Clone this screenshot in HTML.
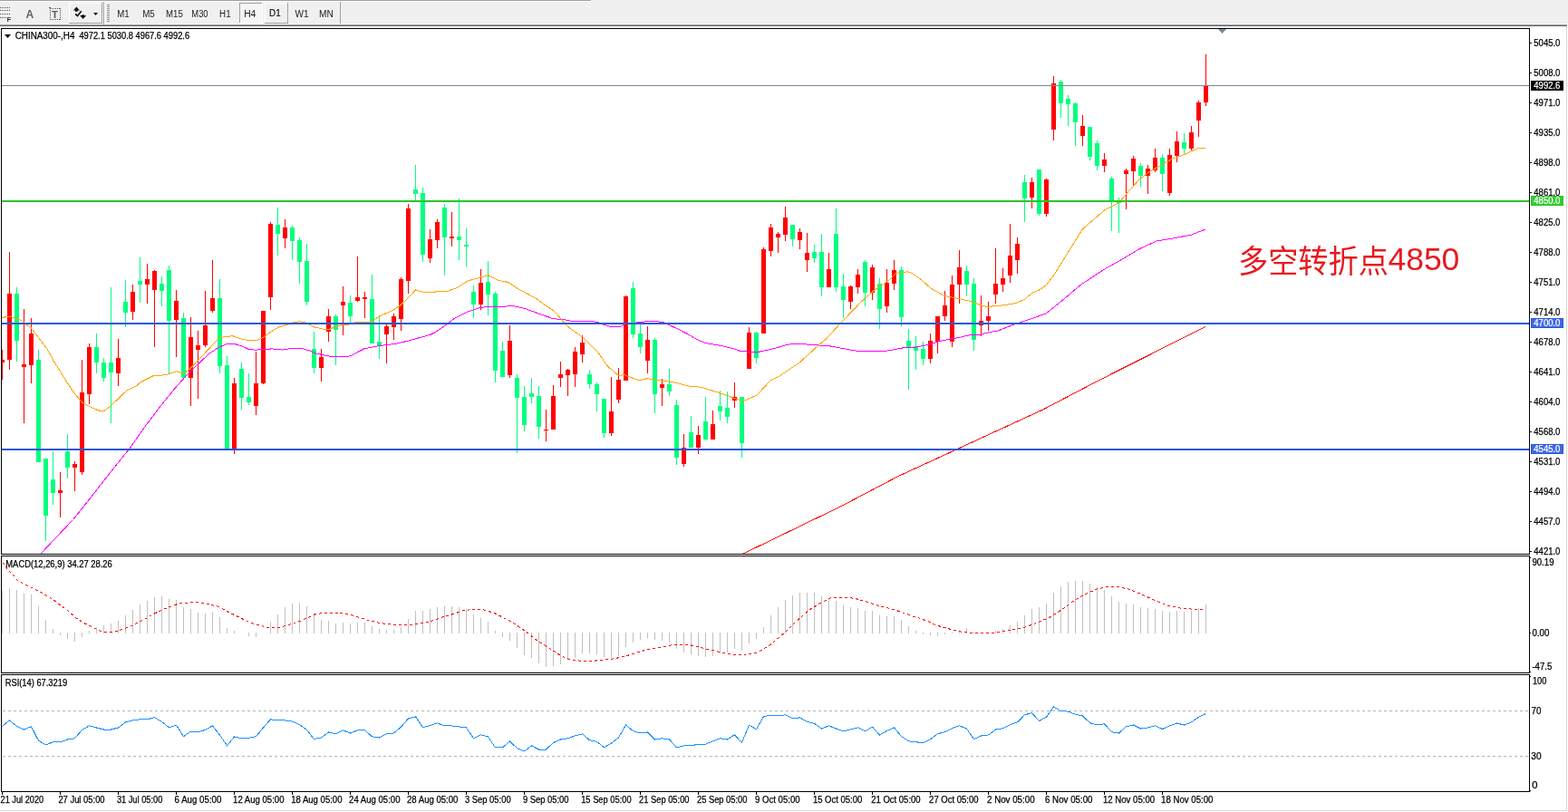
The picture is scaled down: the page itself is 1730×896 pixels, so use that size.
<!DOCTYPE html>
<html><head><meta charset="utf-8"><title>CHINA300 H4</title>
<style>
html,body{margin:0;padding:0;width:1730px;height:896px;overflow:hidden;background:#fff;}
svg{display:block;}
svg text{font-family:'Liberation Sans', sans-serif;}
</style></head>
<body>
<svg width="1730" height="896" viewBox="0 0 1730 896" shape-rendering="crispEdges">
<rect x="0" y="0" width="1730" height="27" fill="#f0f0f0"/>
<rect x="0" y="0" width="652" height="1" fill="#a0a0a0"/>
<rect x="0" y="1" width="652" height="1" fill="#ffffff"/>
<rect x="0" y="26" width="1729" height="1" fill="#f5f5f5"/>
<rect x="0" y="27" width="1729" height="1" fill="#a0a0a0"/>
<rect x="0" y="28" width="1729" height="1" fill="#646464"/>
<rect x="0" y="29" width="1730" height="2" fill="#ffffff"/>
<rect x="0" y="8" width="1" height="1" fill="#505050"/>
<rect x="2" y="8" width="1" height="1" fill="#505050"/>
<rect x="4" y="8" width="1" height="1" fill="#505050"/>
<rect x="6" y="8" width="1" height="1" fill="#505050"/>
<rect x="8" y="8" width="1" height="1" fill="#505050"/>
<rect x="10" y="8" width="1" height="1" fill="#505050"/>
<rect x="0" y="11" width="1" height="1" fill="#505050"/>
<rect x="2" y="11" width="1" height="1" fill="#505050"/>
<rect x="4" y="11" width="1" height="1" fill="#505050"/>
<rect x="6" y="11" width="1" height="1" fill="#505050"/>
<rect x="8" y="11" width="1" height="1" fill="#505050"/>
<rect x="10" y="11" width="1" height="1" fill="#505050"/>
<rect x="0" y="15" width="1" height="1" fill="#505050"/>
<rect x="2" y="15" width="1" height="1" fill="#505050"/>
<rect x="4" y="15" width="1" height="1" fill="#505050"/>
<rect x="6" y="15" width="1" height="1" fill="#505050"/>
<rect x="8" y="15" width="1" height="1" fill="#505050"/>
<rect x="10" y="15" width="1" height="1" fill="#505050"/>
<rect x="0" y="19" width="1" height="1" fill="#505050"/>
<rect x="2" y="19" width="1" height="1" fill="#505050"/>
<rect x="4" y="19" width="1" height="1" fill="#505050"/>
<rect x="6" y="19" width="1" height="1" fill="#505050"/>
<text x="7.6" y="24" font-size="8" font-weight="bold" fill="#404040">F</text>
<text x="28.6" y="20" font-size="12" font-weight="bold" fill="#606060">A</text>
<rect x="55" y="9" width="1" height="1" fill="#505050"/>
<rect x="55" y="21" width="1" height="1" fill="#505050"/>
<rect x="57" y="9" width="1" height="1" fill="#505050"/>
<rect x="57" y="21" width="1" height="1" fill="#505050"/>
<rect x="59" y="9" width="1" height="1" fill="#505050"/>
<rect x="59" y="21" width="1" height="1" fill="#505050"/>
<rect x="61" y="9" width="1" height="1" fill="#505050"/>
<rect x="61" y="21" width="1" height="1" fill="#505050"/>
<rect x="63" y="9" width="1" height="1" fill="#505050"/>
<rect x="63" y="21" width="1" height="1" fill="#505050"/>
<rect x="65" y="9" width="1" height="1" fill="#505050"/>
<rect x="65" y="21" width="1" height="1" fill="#505050"/>
<rect x="55" y="9" width="1" height="1" fill="#505050"/>
<rect x="66" y="9" width="1" height="1" fill="#505050"/>
<rect x="55" y="11" width="1" height="1" fill="#505050"/>
<rect x="66" y="11" width="1" height="1" fill="#505050"/>
<rect x="55" y="13" width="1" height="1" fill="#505050"/>
<rect x="66" y="13" width="1" height="1" fill="#505050"/>
<rect x="55" y="15" width="1" height="1" fill="#505050"/>
<rect x="66" y="15" width="1" height="1" fill="#505050"/>
<rect x="55" y="17" width="1" height="1" fill="#505050"/>
<rect x="66" y="17" width="1" height="1" fill="#505050"/>
<rect x="55" y="19" width="1" height="1" fill="#505050"/>
<rect x="66" y="19" width="1" height="1" fill="#505050"/>
<rect x="55" y="21" width="1" height="1" fill="#505050"/>
<rect x="66" y="21" width="1" height="1" fill="#505050"/>
<rect x="54" y="8" width="2" height="1" fill="#505050"/>
<text x="57" y="19.5" font-size="11.5" font-weight="bold" fill="#606060">T</text>
<rect x="76" y="3" width="37" height="23" fill="#f0f0f0"/>
<rect x="76" y="3" width="36" height="1" fill="#ffffff"/>
<rect x="76" y="3" width="1" height="22" fill="#ffffff"/>
<rect x="76" y="25" width="37" height="1" fill="#a0a0a0"/>
<rect x="112" y="3" width="1" height="23" fill="#a0a0a0"/>
<rect x="113" y="3" width="1" height="23" fill="#f0f0f0"/>
<polygon points="80.8,11.6 84.4,7.6 88,11.6 85.8,11.6 85.8,12.8 83,12.8 83,11.6" fill="#101010" shape-rendering="auto"/>
<polygon points="90.4,16.2 92.9,16.2 92.9,17.1 95.1,17.1 91.6,21 88.1,17.1 90.4,17.1" fill="#101010" shape-rendering="auto"/>
<polyline points="83.2,15.3 85.4,17.5 89.8,12.3" fill="none" stroke="#101010" stroke-width="1.7" shape-rendering="auto"/>
<polygon points="103,14 108,14 105.5,17" fill="#101010" shape-rendering="auto"/>
<rect x="114" y="2" width="1" height="25" fill="#a0a0a0"/>
<rect x="115" y="2" width="1" height="25" fill="#ffffff"/>
<rect x="118" y="5" width="3" height="1" fill="#909090"/>
<rect x="118" y="7" width="3" height="1" fill="#909090"/>
<rect x="118" y="9" width="3" height="1" fill="#909090"/>
<rect x="118" y="11" width="3" height="1" fill="#909090"/>
<rect x="118" y="13" width="3" height="1" fill="#909090"/>
<rect x="118" y="15" width="3" height="1" fill="#909090"/>
<rect x="118" y="17" width="3" height="1" fill="#909090"/>
<rect x="118" y="19" width="3" height="1" fill="#909090"/>
<rect x="118" y="21" width="3" height="1" fill="#909090"/>
<rect x="118" y="23" width="3" height="1" fill="#909090"/>
<defs><pattern id="dith" x="0" y="0" width="2" height="2" patternUnits="userSpaceOnUse"><rect width="2" height="2" fill="#ffffff"/><rect width="1" height="1" fill="#ececec"/><rect x="1" y="1" width="1" height="1" fill="#ececec"/></pattern></defs>
<rect x="264" y="3" width="26" height="23" fill="url(#dith)"/>
<rect x="264" y="3" width="25" height="1" fill="#a0a0a0"/>
<rect x="264" y="3" width="1" height="22" fill="#a0a0a0"/>
<rect x="264" y="25" width="26" height="1" fill="#ffffff"/>
<rect x="289" y="3" width="1" height="23" fill="#ffffff"/>
<rect x="292" y="3" width="26" height="23" fill="#f0f0f0"/>
<rect x="292" y="3" width="25" height="1" fill="#ffffff"/>
<rect x="292" y="3" width="1" height="22" fill="#ffffff"/>
<rect x="292" y="25" width="26" height="1" fill="#a0a0a0"/>
<rect x="317" y="3" width="1" height="23" fill="#a0a0a0"/>
<text x="129.30" y="19.00" font-size="10.00" textLength="13.40" lengthAdjust="spacingAndGlyphs" fill="#202020" xml:space="preserve">M1</text>
<text x="157.20" y="19.00" font-size="10.00" textLength="13.60" lengthAdjust="spacingAndGlyphs" fill="#202020" xml:space="preserve">M5</text>
<text x="183.10" y="19.00" font-size="10.00" textLength="18.70" lengthAdjust="spacingAndGlyphs" fill="#202020" xml:space="preserve">M15</text>
<text x="211.30" y="19.00" font-size="10.00" textLength="18.30" lengthAdjust="spacingAndGlyphs" fill="#202020" xml:space="preserve">M30</text>
<text x="242.10" y="19.00" font-size="10.00" textLength="12.50" lengthAdjust="spacingAndGlyphs" fill="#202020" xml:space="preserve">H1</text>
<text x="269.20" y="19.00" font-size="10.00" textLength="13.10" lengthAdjust="spacingAndGlyphs" fill="#202020" xml:space="preserve">H4</text>
<text x="297.10" y="18.00" font-size="10.00" textLength="12.60" lengthAdjust="spacingAndGlyphs" fill="#000" stroke="#000" stroke-width="0.12" xml:space="preserve">D1</text>
<text x="325.50" y="19.00" font-size="10.00" textLength="15.10" lengthAdjust="spacingAndGlyphs" fill="#202020" xml:space="preserve">W1</text>
<text x="352.00" y="19.00" font-size="10.00" textLength="15.80" lengthAdjust="spacingAndGlyphs" fill="#202020" xml:space="preserve">MN</text>
<rect x="375" y="2" width="1" height="24" fill="#a0a0a0"/>
<rect x="1728" y="29" width="1" height="866" fill="#d8d8d8"/>
<rect x="0" y="894" width="1729" height="1" fill="#d8d8d8"/>
<defs><clipPath id="cm"><rect x="2" y="32" width="1685" height="579"/></clipPath><clipPath id="cd"><rect x="2" y="614" width="1685" height="128"/></clipPath><clipPath id="cr"><rect x="2" y="745" width="1685" height="128"/></clipPath></defs>
<g clip-path="url(#cm)">
<rect x="2" y="386" width="1" height="33" fill="#ff0000"/>
<rect x="0" y="397" width="5" height="3" fill="#ff0000"/>
<rect x="10" y="278" width="1" height="130" fill="#ff0000"/>
<rect x="8" y="324" width="5" height="73" fill="#ff0000"/>
<rect x="18" y="317" width="1" height="82" fill="#00ff7f"/>
<rect x="16" y="324" width="5" height="52" fill="#00ff7f"/>
<rect x="26" y="341" width="1" height="126" fill="#ff0000"/>
<rect x="24" y="402" width="5" height="3" fill="#ff0000"/>
<rect x="34" y="351" width="1" height="72" fill="#ff0000"/>
<rect x="32" y="368" width="5" height="35" fill="#ff0000"/>
<rect x="42" y="386" width="1" height="124" fill="#00ff7f"/>
<rect x="40" y="397" width="5" height="113" fill="#00ff7f"/>
<rect x="50" y="506" width="1" height="91" fill="#00ff7f"/>
<rect x="48" y="506" width="5" height="63" fill="#00ff7f"/>
<rect x="58" y="498" width="1" height="59" fill="#00ff7f"/>
<rect x="56" y="529" width="5" height="15" fill="#00ff7f"/>
<rect x="66" y="521" width="1" height="50" fill="#ff0000"/>
<rect x="64" y="541" width="5" height="3" fill="#ff0000"/>
<rect x="74" y="479" width="1" height="49" fill="#00ff7f"/>
<rect x="72" y="498" width="5" height="18" fill="#00ff7f"/>
<rect x="82" y="509" width="1" height="33" fill="#ff0000"/>
<rect x="80" y="512" width="5" height="4" fill="#ff0000"/>
<rect x="90" y="397" width="1" height="127" fill="#ff0000"/>
<rect x="88" y="433" width="5" height="88" fill="#ff0000"/>
<rect x="98" y="379" width="1" height="67" fill="#ff0000"/>
<rect x="96" y="383" width="5" height="52" fill="#ff0000"/>
<rect x="106" y="368" width="1" height="44" fill="#00ff7f"/>
<rect x="104" y="383" width="5" height="17" fill="#00ff7f"/>
<rect x="114" y="395" width="1" height="26" fill="#00ff7f"/>
<rect x="112" y="400" width="5" height="17" fill="#00ff7f"/>
<rect x="122" y="317" width="1" height="150" fill="#00ff7f"/>
<rect x="120" y="400" width="5" height="11" fill="#00ff7f"/>
<rect x="130" y="374" width="1" height="52" fill="#ff0000"/>
<rect x="128" y="395" width="5" height="17" fill="#ff0000"/>
<rect x="138" y="309" width="1" height="52" fill="#00ff7f"/>
<rect x="136" y="333" width="5" height="12" fill="#00ff7f"/>
<rect x="146" y="314" width="1" height="39" fill="#ff0000"/>
<rect x="144" y="322" width="5" height="22" fill="#ff0000"/>
<rect x="154" y="284" width="1" height="50" fill="#00ff7f"/>
<rect x="152" y="310" width="5" height="4" fill="#00ff7f"/>
<rect x="162" y="291" width="1" height="44" fill="#ff0000"/>
<rect x="160" y="308" width="5" height="6" fill="#ff0000"/>
<rect x="170" y="298" width="1" height="85" fill="#ff0000"/>
<rect x="168" y="299" width="5" height="21" fill="#ff0000"/>
<rect x="178" y="305" width="1" height="33" fill="#00ff7f"/>
<rect x="176" y="313" width="5" height="8" fill="#00ff7f"/>
<rect x="186" y="293" width="1" height="119" fill="#00ff7f"/>
<rect x="184" y="298" width="5" height="56" fill="#00ff7f"/>
<rect x="194" y="320" width="1" height="74" fill="#ff0000"/>
<rect x="192" y="332" width="5" height="21" fill="#ff0000"/>
<rect x="202" y="345" width="1" height="73" fill="#00ff7f"/>
<rect x="200" y="351" width="5" height="66" fill="#00ff7f"/>
<rect x="210" y="350" width="1" height="98" fill="#ff0000"/>
<rect x="208" y="372" width="5" height="45" fill="#ff0000"/>
<rect x="218" y="365" width="1" height="75" fill="#ff0000"/>
<rect x="216" y="381" width="5" height="5" fill="#ff0000"/>
<rect x="226" y="321" width="1" height="62" fill="#ff0000"/>
<rect x="224" y="359" width="5" height="22" fill="#ff0000"/>
<rect x="234" y="287" width="1" height="58" fill="#ff0000"/>
<rect x="232" y="329" width="5" height="14" fill="#ff0000"/>
<rect x="242" y="308" width="1" height="104" fill="#00ff7f"/>
<rect x="240" y="329" width="5" height="75" fill="#00ff7f"/>
<rect x="250" y="393" width="1" height="102" fill="#00ff7f"/>
<rect x="248" y="403" width="5" height="92" fill="#00ff7f"/>
<rect x="258" y="417" width="1" height="84" fill="#ff0000"/>
<rect x="256" y="423" width="5" height="72" fill="#ff0000"/>
<rect x="266" y="400" width="1" height="52" fill="#00ff7f"/>
<rect x="264" y="407" width="5" height="32" fill="#00ff7f"/>
<rect x="274" y="412" width="1" height="35" fill="#00ff7f"/>
<rect x="272" y="438" width="5" height="6" fill="#00ff7f"/>
<rect x="282" y="388" width="1" height="70" fill="#ff0000"/>
<rect x="280" y="423" width="5" height="25" fill="#ff0000"/>
<rect x="290" y="343" width="1" height="81" fill="#ff0000"/>
<rect x="288" y="343" width="5" height="80" fill="#ff0000"/>
<rect x="298" y="245" width="1" height="97" fill="#ff0000"/>
<rect x="296" y="247" width="5" height="81" fill="#ff0000"/>
<rect x="306" y="229" width="1" height="53" fill="#00ff7f"/>
<rect x="304" y="248" width="5" height="10" fill="#00ff7f"/>
<rect x="314" y="242" width="1" height="32" fill="#ff0000"/>
<rect x="312" y="251" width="5" height="12" fill="#ff0000"/>
<rect x="322" y="249" width="1" height="38" fill="#00ff7f"/>
<rect x="320" y="251" width="5" height="15" fill="#00ff7f"/>
<rect x="330" y="262" width="1" height="51" fill="#00ff7f"/>
<rect x="328" y="265" width="5" height="24" fill="#00ff7f"/>
<rect x="338" y="269" width="1" height="68" fill="#00ff7f"/>
<rect x="336" y="288" width="5" height="45" fill="#00ff7f"/>
<rect x="346" y="366" width="1" height="46" fill="#00ff7f"/>
<rect x="344" y="385" width="5" height="21" fill="#00ff7f"/>
<rect x="354" y="385" width="1" height="36" fill="#ff0000"/>
<rect x="352" y="394" width="5" height="12" fill="#ff0000"/>
<rect x="362" y="341" width="1" height="36" fill="#ff0000"/>
<rect x="360" y="349" width="5" height="17" fill="#ff0000"/>
<rect x="370" y="347" width="1" height="56" fill="#00ff7f"/>
<rect x="368" y="349" width="5" height="15" fill="#00ff7f"/>
<rect x="378" y="316" width="1" height="54" fill="#ff0000"/>
<rect x="376" y="333" width="5" height="4" fill="#ff0000"/>
<rect x="386" y="326" width="1" height="30" fill="#00ff7f"/>
<rect x="384" y="334" width="5" height="15" fill="#00ff7f"/>
<rect x="394" y="283" width="1" height="50" fill="#ff0000"/>
<rect x="392" y="328" width="5" height="4" fill="#ff0000"/>
<rect x="402" y="322" width="1" height="29" fill="#ff0000"/>
<rect x="400" y="328" width="5" height="2" fill="#ff0000"/>
<rect x="410" y="303" width="1" height="76" fill="#00ff7f"/>
<rect x="408" y="330" width="5" height="49" fill="#00ff7f"/>
<rect x="418" y="350" width="1" height="46" fill="#00ff7f"/>
<rect x="416" y="377" width="5" height="4" fill="#00ff7f"/>
<rect x="426" y="358" width="1" height="43" fill="#ff0000"/>
<rect x="424" y="360" width="5" height="9" fill="#ff0000"/>
<rect x="434" y="346" width="1" height="29" fill="#ff0000"/>
<rect x="432" y="349" width="5" height="12" fill="#ff0000"/>
<rect x="442" y="306" width="1" height="59" fill="#ff0000"/>
<rect x="440" y="308" width="5" height="44" fill="#ff0000"/>
<rect x="450" y="225" width="1" height="99" fill="#ff0000"/>
<rect x="448" y="230" width="5" height="80" fill="#ff0000"/>
<rect x="458" y="182" width="1" height="39" fill="#00ff7f"/>
<rect x="456" y="209" width="5" height="5" fill="#00ff7f"/>
<rect x="466" y="207" width="1" height="82" fill="#00ff7f"/>
<rect x="464" y="213" width="5" height="68" fill="#00ff7f"/>
<rect x="474" y="253" width="1" height="37" fill="#ff0000"/>
<rect x="472" y="264" width="5" height="21" fill="#ff0000"/>
<rect x="482" y="242" width="1" height="32" fill="#ff0000"/>
<rect x="480" y="245" width="5" height="20" fill="#ff0000"/>
<rect x="490" y="225" width="1" height="79" fill="#00ff7f"/>
<rect x="488" y="229" width="5" height="33" fill="#00ff7f"/>
<rect x="498" y="234" width="1" height="38" fill="#ff0000"/>
<rect x="496" y="261" width="5" height="2" fill="#ff0000"/>
<rect x="506" y="219" width="1" height="68" fill="#00ff7f"/>
<rect x="504" y="261" width="5" height="4" fill="#00ff7f"/>
<rect x="514" y="252" width="1" height="42" fill="#00ff7f"/>
<rect x="512" y="270" width="5" height="2" fill="#00ff7f"/>
<rect x="522" y="315" width="1" height="36" fill="#00ff7f"/>
<rect x="520" y="322" width="5" height="14" fill="#00ff7f"/>
<rect x="530" y="297" width="1" height="45" fill="#ff0000"/>
<rect x="528" y="312" width="5" height="24" fill="#ff0000"/>
<rect x="538" y="288" width="1" height="60" fill="#00ff7f"/>
<rect x="536" y="311" width="5" height="14" fill="#00ff7f"/>
<rect x="546" y="322" width="1" height="100" fill="#00ff7f"/>
<rect x="544" y="324" width="5" height="85" fill="#00ff7f"/>
<rect x="554" y="377" width="1" height="39" fill="#00ff7f"/>
<rect x="552" y="387" width="5" height="29" fill="#00ff7f"/>
<rect x="562" y="359" width="1" height="58" fill="#ff0000"/>
<rect x="560" y="376" width="5" height="38" fill="#ff0000"/>
<rect x="570" y="413" width="1" height="87" fill="#00ff7f"/>
<rect x="568" y="417" width="5" height="22" fill="#00ff7f"/>
<rect x="578" y="426" width="1" height="50" fill="#00ff7f"/>
<rect x="576" y="438" width="5" height="31" fill="#00ff7f"/>
<rect x="586" y="417" width="1" height="28" fill="#00ff7f"/>
<rect x="584" y="434" width="5" height="4" fill="#00ff7f"/>
<rect x="594" y="426" width="1" height="58" fill="#00ff7f"/>
<rect x="592" y="437" width="5" height="34" fill="#00ff7f"/>
<rect x="602" y="452" width="1" height="35" fill="#ff0000"/>
<rect x="600" y="474" width="5" height="1" fill="#ff0000"/>
<rect x="610" y="425" width="1" height="49" fill="#ff0000"/>
<rect x="608" y="437" width="5" height="37" fill="#ff0000"/>
<rect x="618" y="399" width="1" height="28" fill="#ff0000"/>
<rect x="616" y="413" width="5" height="4" fill="#ff0000"/>
<rect x="626" y="407" width="1" height="30" fill="#ff0000"/>
<rect x="624" y="408" width="5" height="6" fill="#ff0000"/>
<rect x="634" y="383" width="1" height="44" fill="#ff0000"/>
<rect x="632" y="388" width="5" height="25" fill="#ff0000"/>
<rect x="642" y="370" width="1" height="30" fill="#ff0000"/>
<rect x="640" y="378" width="5" height="13" fill="#ff0000"/>
<rect x="650" y="408" width="1" height="21" fill="#00ff7f"/>
<rect x="648" y="413" width="5" height="11" fill="#00ff7f"/>
<rect x="658" y="422" width="1" height="32" fill="#00ff7f"/>
<rect x="656" y="424" width="5" height="11" fill="#00ff7f"/>
<rect x="666" y="440" width="1" height="43" fill="#00ff7f"/>
<rect x="664" y="440" width="5" height="38" fill="#00ff7f"/>
<rect x="674" y="416" width="1" height="65" fill="#ff0000"/>
<rect x="672" y="454" width="5" height="24" fill="#ff0000"/>
<rect x="682" y="406" width="1" height="39" fill="#ff0000"/>
<rect x="680" y="419" width="5" height="22" fill="#ff0000"/>
<rect x="690" y="326" width="1" height="94" fill="#ff0000"/>
<rect x="688" y="327" width="5" height="93" fill="#ff0000"/>
<rect x="698" y="311" width="1" height="62" fill="#00ff7f"/>
<rect x="696" y="318" width="5" height="51" fill="#00ff7f"/>
<rect x="706" y="358" width="1" height="32" fill="#00ff7f"/>
<rect x="704" y="368" width="5" height="15" fill="#00ff7f"/>
<rect x="714" y="360" width="1" height="52" fill="#ff0000"/>
<rect x="712" y="375" width="5" height="23" fill="#ff0000"/>
<rect x="722" y="373" width="1" height="83" fill="#00ff7f"/>
<rect x="720" y="375" width="5" height="60" fill="#00ff7f"/>
<rect x="730" y="418" width="1" height="30" fill="#ff0000"/>
<rect x="728" y="424" width="5" height="4" fill="#ff0000"/>
<rect x="738" y="407" width="1" height="30" fill="#00ff7f"/>
<rect x="736" y="424" width="5" height="8" fill="#00ff7f"/>
<rect x="746" y="441" width="1" height="72" fill="#00ff7f"/>
<rect x="744" y="447" width="5" height="58" fill="#00ff7f"/>
<rect x="754" y="479" width="1" height="36" fill="#ff0000"/>
<rect x="752" y="494" width="5" height="18" fill="#ff0000"/>
<rect x="762" y="459" width="1" height="35" fill="#00ff7f"/>
<rect x="760" y="477" width="5" height="17" fill="#00ff7f"/>
<rect x="770" y="470" width="1" height="31" fill="#ff0000"/>
<rect x="768" y="480" width="5" height="14" fill="#ff0000"/>
<rect x="778" y="438" width="1" height="48" fill="#00ff7f"/>
<rect x="776" y="465" width="5" height="20" fill="#00ff7f"/>
<rect x="786" y="453" width="1" height="32" fill="#ff0000"/>
<rect x="784" y="468" width="5" height="17" fill="#ff0000"/>
<rect x="794" y="431" width="1" height="33" fill="#00ff7f"/>
<rect x="792" y="448" width="5" height="6" fill="#00ff7f"/>
<rect x="802" y="432" width="1" height="35" fill="#00ff7f"/>
<rect x="800" y="450" width="5" height="10" fill="#00ff7f"/>
<rect x="810" y="422" width="1" height="28" fill="#ff0000"/>
<rect x="808" y="438" width="5" height="4" fill="#ff0000"/>
<rect x="818" y="438" width="1" height="67" fill="#00ff7f"/>
<rect x="816" y="438" width="5" height="51" fill="#00ff7f"/>
<rect x="826" y="361" width="1" height="46" fill="#ff0000"/>
<rect x="824" y="367" width="5" height="40" fill="#ff0000"/>
<rect x="834" y="366" width="1" height="35" fill="#00ff7f"/>
<rect x="832" y="367" width="5" height="28" fill="#00ff7f"/>
<rect x="842" y="273" width="1" height="95" fill="#ff0000"/>
<rect x="840" y="275" width="5" height="93" fill="#ff0000"/>
<rect x="850" y="247" width="1" height="36" fill="#ff0000"/>
<rect x="848" y="251" width="5" height="26" fill="#ff0000"/>
<rect x="858" y="256" width="1" height="23" fill="#ff0000"/>
<rect x="856" y="258" width="5" height="4" fill="#ff0000"/>
<rect x="866" y="228" width="1" height="38" fill="#ff0000"/>
<rect x="864" y="240" width="5" height="19" fill="#ff0000"/>
<rect x="874" y="248" width="1" height="24" fill="#00ff7f"/>
<rect x="872" y="248" width="5" height="16" fill="#00ff7f"/>
<rect x="882" y="252" width="1" height="23" fill="#ff0000"/>
<rect x="880" y="256" width="5" height="9" fill="#ff0000"/>
<rect x="890" y="257" width="1" height="43" fill="#ff0000"/>
<rect x="888" y="279" width="5" height="8" fill="#ff0000"/>
<rect x="898" y="270" width="1" height="20" fill="#00ff7f"/>
<rect x="896" y="278" width="5" height="7" fill="#00ff7f"/>
<rect x="906" y="258" width="1" height="69" fill="#00ff7f"/>
<rect x="904" y="278" width="5" height="39" fill="#00ff7f"/>
<rect x="914" y="279" width="1" height="38" fill="#ff0000"/>
<rect x="912" y="297" width="5" height="20" fill="#ff0000"/>
<rect x="922" y="230" width="1" height="92" fill="#00ff7f"/>
<rect x="920" y="258" width="5" height="59" fill="#00ff7f"/>
<rect x="930" y="302" width="1" height="49" fill="#00ff7f"/>
<rect x="928" y="316" width="5" height="15" fill="#00ff7f"/>
<rect x="938" y="315" width="1" height="26" fill="#ff0000"/>
<rect x="936" y="316" width="5" height="17" fill="#ff0000"/>
<rect x="946" y="297" width="1" height="27" fill="#ff0000"/>
<rect x="944" y="303" width="5" height="14" fill="#ff0000"/>
<rect x="954" y="287" width="1" height="51" fill="#00ff7f"/>
<rect x="952" y="289" width="5" height="34" fill="#00ff7f"/>
<rect x="962" y="292" width="1" height="39" fill="#ff0000"/>
<rect x="960" y="295" width="5" height="28" fill="#ff0000"/>
<rect x="970" y="307" width="1" height="56" fill="#00ff7f"/>
<rect x="968" y="313" width="5" height="28" fill="#00ff7f"/>
<rect x="978" y="297" width="1" height="48" fill="#ff0000"/>
<rect x="976" y="312" width="5" height="26" fill="#ff0000"/>
<rect x="986" y="287" width="1" height="33" fill="#ff0000"/>
<rect x="984" y="298" width="5" height="15" fill="#ff0000"/>
<rect x="994" y="294" width="1" height="66" fill="#00ff7f"/>
<rect x="992" y="298" width="5" height="52" fill="#00ff7f"/>
<rect x="1002" y="363" width="1" height="67" fill="#00ff7f"/>
<rect x="1000" y="376" width="5" height="7" fill="#00ff7f"/>
<rect x="1010" y="371" width="1" height="37" fill="#00ff7f"/>
<rect x="1008" y="382" width="5" height="5" fill="#00ff7f"/>
<rect x="1018" y="377" width="1" height="26" fill="#00ff7f"/>
<rect x="1016" y="385" width="5" height="11" fill="#00ff7f"/>
<rect x="1026" y="368" width="1" height="33" fill="#ff0000"/>
<rect x="1024" y="376" width="5" height="20" fill="#ff0000"/>
<rect x="1034" y="349" width="1" height="41" fill="#ff0000"/>
<rect x="1032" y="349" width="5" height="28" fill="#ff0000"/>
<rect x="1042" y="321" width="1" height="33" fill="#ff0000"/>
<rect x="1040" y="337" width="5" height="12" fill="#ff0000"/>
<rect x="1050" y="304" width="1" height="79" fill="#ff0000"/>
<rect x="1048" y="314" width="5" height="63" fill="#ff0000"/>
<rect x="1058" y="276" width="1" height="59" fill="#ff0000"/>
<rect x="1056" y="295" width="5" height="19" fill="#ff0000"/>
<rect x="1066" y="293" width="1" height="34" fill="#00ff7f"/>
<rect x="1064" y="299" width="5" height="15" fill="#00ff7f"/>
<rect x="1074" y="307" width="1" height="80" fill="#00ff7f"/>
<rect x="1072" y="313" width="5" height="62" fill="#00ff7f"/>
<rect x="1082" y="326" width="1" height="45" fill="#ff0000"/>
<rect x="1080" y="354" width="5" height="5" fill="#ff0000"/>
<rect x="1090" y="333" width="1" height="32" fill="#ff0000"/>
<rect x="1088" y="349" width="5" height="5" fill="#ff0000"/>
<rect x="1098" y="274" width="1" height="61" fill="#ff0000"/>
<rect x="1096" y="313" width="5" height="12" fill="#ff0000"/>
<rect x="1106" y="296" width="1" height="26" fill="#ff0000"/>
<rect x="1104" y="307" width="5" height="7" fill="#ff0000"/>
<rect x="1114" y="247" width="1" height="65" fill="#ff0000"/>
<rect x="1112" y="282" width="5" height="22" fill="#ff0000"/>
<rect x="1122" y="262" width="1" height="40" fill="#ff0000"/>
<rect x="1120" y="269" width="5" height="18" fill="#ff0000"/>
<rect x="1130" y="193" width="1" height="52" fill="#00ff7f"/>
<rect x="1128" y="201" width="5" height="18" fill="#00ff7f"/>
<rect x="1138" y="196" width="1" height="34" fill="#ff0000"/>
<rect x="1136" y="201" width="5" height="17" fill="#ff0000"/>
<rect x="1146" y="187" width="1" height="51" fill="#00ff7f"/>
<rect x="1144" y="187" width="5" height="49" fill="#00ff7f"/>
<rect x="1154" y="197" width="1" height="42" fill="#ff0000"/>
<rect x="1152" y="198" width="5" height="38" fill="#ff0000"/>
<rect x="1162" y="84" width="1" height="71" fill="#ff0000"/>
<rect x="1160" y="92" width="5" height="51" fill="#ff0000"/>
<rect x="1170" y="88" width="1" height="42" fill="#00ff7f"/>
<rect x="1168" y="90" width="5" height="24" fill="#00ff7f"/>
<rect x="1178" y="105" width="1" height="34" fill="#00ff7f"/>
<rect x="1176" y="109" width="5" height="6" fill="#00ff7f"/>
<rect x="1186" y="113" width="1" height="48" fill="#00ff7f"/>
<rect x="1184" y="114" width="5" height="21" fill="#00ff7f"/>
<rect x="1194" y="127" width="1" height="34" fill="#ff0000"/>
<rect x="1192" y="139" width="5" height="11" fill="#ff0000"/>
<rect x="1202" y="140" width="1" height="37" fill="#00ff7f"/>
<rect x="1200" y="140" width="5" height="33" fill="#00ff7f"/>
<rect x="1210" y="155" width="1" height="33" fill="#00ff7f"/>
<rect x="1208" y="158" width="5" height="25" fill="#00ff7f"/>
<rect x="1218" y="169" width="1" height="21" fill="#ff0000"/>
<rect x="1216" y="176" width="5" height="7" fill="#ff0000"/>
<rect x="1226" y="195" width="1" height="60" fill="#00ff7f"/>
<rect x="1224" y="197" width="5" height="24" fill="#00ff7f"/>
<rect x="1234" y="218" width="1" height="39" fill="#00ff7f"/>
<rect x="1232" y="221" width="5" height="3" fill="#00ff7f"/>
<rect x="1242" y="186" width="1" height="45" fill="#ff0000"/>
<rect x="1240" y="188" width="5" height="4" fill="#ff0000"/>
<rect x="1250" y="172" width="1" height="32" fill="#ff0000"/>
<rect x="1248" y="175" width="5" height="14" fill="#ff0000"/>
<rect x="1258" y="180" width="1" height="26" fill="#00ff7f"/>
<rect x="1256" y="183" width="5" height="11" fill="#00ff7f"/>
<rect x="1266" y="182" width="1" height="32" fill="#ff0000"/>
<rect x="1264" y="186" width="5" height="8" fill="#ff0000"/>
<rect x="1274" y="164" width="1" height="26" fill="#ff0000"/>
<rect x="1272" y="174" width="5" height="14" fill="#ff0000"/>
<rect x="1282" y="170" width="1" height="41" fill="#00ff7f"/>
<rect x="1280" y="174" width="5" height="18" fill="#00ff7f"/>
<rect x="1290" y="164" width="1" height="52" fill="#ff0000"/>
<rect x="1288" y="171" width="5" height="42" fill="#ff0000"/>
<rect x="1298" y="145" width="1" height="34" fill="#ff0000"/>
<rect x="1296" y="156" width="5" height="16" fill="#ff0000"/>
<rect x="1306" y="147" width="1" height="22" fill="#00ff7f"/>
<rect x="1304" y="157" width="5" height="7" fill="#00ff7f"/>
<rect x="1314" y="139" width="1" height="28" fill="#ff0000"/>
<rect x="1312" y="146" width="5" height="18" fill="#ff0000"/>
<rect x="1322" y="111" width="1" height="40" fill="#ff0000"/>
<rect x="1320" y="113" width="5" height="20" fill="#ff0000"/>
<rect x="1330" y="60" width="1" height="57" fill="#ff0000"/>
<rect x="1328" y="94" width="5" height="19" fill="#ff0000"/>
<polyline points="819.6,611.2 927.7,558.8 991.3,525.4 1054.9,496.1 1150.3,452.2 1213.9,418.9 1291.3,380.0 1329.8,360.7" fill="none" stroke="#ff0000" stroke-width="1"/>
<polyline points="44.5,611.5 60.5,594.5 80.5,573.5 100.5,548.5 122.4,520.5 142.5,495.5 160.8,469.6 176.8,448.5 191.3,430.5 202.9,417.4 215.9,404.3 230.5,390.5 240.6,383.7 249.3,380.0 259.5,379.7 266.7,381.8 274.0,385.2 281.2,386.2 300.1,384.9 303.9,385.3 311.9,386.1 320.0,384.7 334.7,385.0 341.4,386.9 348.1,389.8 360.1,392.5 368.1,393.8 381.5,393.8 386.9,392.5 401.6,384.9 419.0,381.5 437.8,379.1 451.1,375.9 464.5,372.2 475.2,369.2 480.5,366.5 491.6,358.8 502.3,350.7 515.7,344.0 529.0,339.8 535.7,338.7 555.8,338.7 561.2,337.6 566.5,337.6 579.9,340.7 596.0,346.7 609.4,351.4 617.4,352.5 622.8,352.7 630.8,354.5 654.9,354.8 660.2,355.8 666.2,358.3 674.2,360.6 683.6,360.6 689.0,357.9 702.4,355.9 711.7,354.9 726.5,354.9 731.8,355.7 738.5,358.6 749.2,363.7 759.9,369.3 769.3,374.7 778.7,378.7 789.4,380.3 800.1,382.5 810.8,385.1 817.5,387.8 826.9,388.1 834.9,388.8 845.5,386.5 856.1,384.1 868.6,380.2 881.1,379.2 892.0,380.2 915.4,381.8 927.9,384.1 943.5,387.0 956.0,387.7 979.4,387.0 996.6,383.8 1009.1,383.4 1024.7,380.2 1038.7,376.0 1055.9,372.9 1069.9,369.8 1080.9,369.3 1093.3,366.2 1100.5,365.2 1117.2,358.5 1130.6,354.3 1154.1,346.0 1170.8,332.6 1192.5,314.2 1219.3,296.6 1234.4,288.2 1257.8,274.3 1276.2,266.0 1298.0,262.3 1314.7,259.0 1329.8,253.1" fill="none" stroke="#ff00ff" stroke-width="1"/>
<polyline points="2.0,350.8 5.5,350.0 9.9,349.6 16.1,350.5 23.9,353.9 34.1,361.8 42.7,372.7 52.1,385.2 59.9,399.3 72.4,419.5 81.8,433.6 91.1,444.5 100.5,449.3 108.3,452.8 114.5,453.9 122.4,447.7 139.5,431.3 150.5,425.8 155.0,421.8 169.5,414.5 182.6,413.8 194.2,409.9 202.9,411.9 210.1,406.5 221.8,394.2 233.4,381.9 242.1,372.7 247.9,371.7 256.6,370.7 265.3,373.9 274.0,375.6 284.1,375.3 291.4,371.7 300.1,365.2 307.9,360.8 317.3,358.1 324.0,355.8 330.7,354.8 337.4,356.1 346.7,360.8 354.8,362.8 362.8,363.9 368.1,361.2 376.2,359.0 382.9,358.5 392.2,355.8 405.6,355.8 411.0,354.5 417.7,349.4 427.0,345.4 435.1,341.4 441.8,336.7 451.1,328.0 458.5,320.0 465.9,322.0 480.5,322.0 493.4,321.6 505.5,316.9 515.9,310.0 529.8,306.2 538.5,303.5 548.9,309.1 560.5,311.4 569.9,317.7 580.8,323.6 591.8,329.4 601.1,336.4 610.5,342.7 615.2,347.4 623.0,356.8 627.7,361.4 638.6,369.3 643.3,372.4 654.3,383.3 660.5,389.6 669.9,403.6 682.4,414.6 688.6,413.5 694.9,416.1 705.8,420.0 713.6,417.7 720.5,418.5 726.2,419.7 740.0,421.1 762.6,426.6 773.0,427.1 795.5,434.1 819.8,442.7 835.4,435.8 849.9,420.0 859.2,415.4 882.6,399.8 902.9,381.0 910.7,374.8 927.9,356.1 949.8,333.4 963.8,320.9 971.6,315.5 981.0,309.2 988.8,301.4 996.6,300.2 1001.3,299.9 1005.9,301.4 1015.3,307.7 1027.8,318.6 1041.8,326.4 1055.9,329.2 1071.5,332.6 1084.0,337.3 1090.2,338.9 1098.0,337.3 1100.5,337.6 1115.5,335.6 1122.3,333.9 1130.6,330.1 1139.0,323.1 1145.7,320.5 1154.1,315.0 1164.1,301.6 1177.5,279.9 1194.2,253.1 1207.6,241.4 1219.3,231.3 1235.0,223.3 1242.5,214.1 1257.6,197.4 1267.7,189.8 1282.7,181.5 1294.4,174.8 1304.5,171.4 1321.2,163.9 1330.4,163.9" fill="none" stroke="#ffa500" stroke-width="1"/>
<rect x="2" y="94" width="1685" height="1" fill="#778899"/>
<rect x="2" y="221" width="1685" height="2" fill="#2bc42b"/>
<rect x="2" y="356" width="1685" height="2" fill="#2a58db"/>
<rect x="2" y="495" width="1685" height="2" fill="#2a58db"/>
</g>
<polygon points="1344,32 1353,32 1348.5,37" fill="#778899" shape-rendering="auto"/>
<rect x="1.5" y="31.5" width="1686" height="580" fill="none" stroke="#000" stroke-width="1"/>
<polygon points="5,38 12,38 8.5,42" fill="#000" shape-rendering="auto"/>
<text x="16.70" y="43.00" font-size="10.00" textLength="65.70" lengthAdjust="spacingAndGlyphs" fill="#000" stroke="#000" stroke-width="0.25" xml:space="preserve">CHINA300-,H4</text>
<text x="87.40" y="43.00" font-size="10.00" textLength="121.70" lengthAdjust="spacingAndGlyphs" fill="#000" stroke="#000" stroke-width="0.25" xml:space="preserve">4972.1 5030.8 4967.6 4992.6</text>
<rect x="1688" y="47" width="2" height="1" fill="#000"/>
<text x="1692.30" y="51.00" font-size="10.00" textLength="29.10" lengthAdjust="spacingAndGlyphs" fill="#000" stroke="#000" stroke-width="0.25" xml:space="preserve">5045.0</text>
<rect x="1688" y="80" width="2" height="1" fill="#000"/>
<text x="1692.30" y="84.00" font-size="10.00" textLength="29.10" lengthAdjust="spacingAndGlyphs" fill="#000" stroke="#000" stroke-width="0.25" xml:space="preserve">5008.0</text>
<rect x="1688" y="113" width="2" height="1" fill="#000"/>
<text x="1692.30" y="117.00" font-size="10.00" textLength="29.10" lengthAdjust="spacingAndGlyphs" fill="#000" stroke="#000" stroke-width="0.25" xml:space="preserve">4971.0</text>
<rect x="1688" y="146" width="2" height="1" fill="#000"/>
<text x="1692.30" y="150.00" font-size="10.00" textLength="29.10" lengthAdjust="spacingAndGlyphs" fill="#000" stroke="#000" stroke-width="0.25" xml:space="preserve">4935.0</text>
<rect x="1688" y="179" width="2" height="1" fill="#000"/>
<text x="1692.30" y="183.00" font-size="10.00" textLength="29.10" lengthAdjust="spacingAndGlyphs" fill="#000" stroke="#000" stroke-width="0.25" xml:space="preserve">4898.0</text>
<rect x="1688" y="212" width="2" height="1" fill="#000"/>
<text x="1692.30" y="216.00" font-size="10.00" textLength="29.10" lengthAdjust="spacingAndGlyphs" fill="#000" stroke="#000" stroke-width="0.25" xml:space="preserve">4861.0</text>
<rect x="1688" y="245" width="2" height="1" fill="#000"/>
<text x="1692.30" y="249.00" font-size="10.00" textLength="29.10" lengthAdjust="spacingAndGlyphs" fill="#000" stroke="#000" stroke-width="0.25" xml:space="preserve">4825.0</text>
<rect x="1688" y="278" width="2" height="1" fill="#000"/>
<text x="1692.30" y="282.00" font-size="10.00" textLength="29.10" lengthAdjust="spacingAndGlyphs" fill="#000" stroke="#000" stroke-width="0.25" xml:space="preserve">4788.0</text>
<rect x="1688" y="311" width="2" height="1" fill="#000"/>
<text x="1692.30" y="315.00" font-size="10.00" textLength="29.10" lengthAdjust="spacingAndGlyphs" fill="#000" stroke="#000" stroke-width="0.25" xml:space="preserve">4751.0</text>
<rect x="1688" y="344" width="2" height="1" fill="#000"/>
<text x="1692.30" y="348.00" font-size="10.00" textLength="29.10" lengthAdjust="spacingAndGlyphs" fill="#000" stroke="#000" stroke-width="0.25" xml:space="preserve">4714.0</text>
<rect x="1688" y="377" width="2" height="1" fill="#000"/>
<text x="1692.30" y="381.00" font-size="10.00" textLength="29.10" lengthAdjust="spacingAndGlyphs" fill="#000" stroke="#000" stroke-width="0.25" xml:space="preserve">4678.0</text>
<rect x="1688" y="410" width="2" height="1" fill="#000"/>
<text x="1692.30" y="414.00" font-size="10.00" textLength="29.10" lengthAdjust="spacingAndGlyphs" fill="#000" stroke="#000" stroke-width="0.25" xml:space="preserve">4641.0</text>
<rect x="1688" y="443" width="2" height="1" fill="#000"/>
<text x="1692.30" y="447.00" font-size="10.00" textLength="29.10" lengthAdjust="spacingAndGlyphs" fill="#000" stroke="#000" stroke-width="0.25" xml:space="preserve">4604.0</text>
<rect x="1688" y="476" width="2" height="1" fill="#000"/>
<text x="1692.30" y="480.00" font-size="10.00" textLength="29.10" lengthAdjust="spacingAndGlyphs" fill="#000" stroke="#000" stroke-width="0.25" xml:space="preserve">4568.0</text>
<rect x="1688" y="509" width="2" height="1" fill="#000"/>
<text x="1692.30" y="513.00" font-size="10.00" textLength="29.10" lengthAdjust="spacingAndGlyphs" fill="#000" stroke="#000" stroke-width="0.25" xml:space="preserve">4531.0</text>
<rect x="1688" y="542" width="2" height="1" fill="#000"/>
<text x="1692.30" y="546.00" font-size="10.00" textLength="29.10" lengthAdjust="spacingAndGlyphs" fill="#000" stroke="#000" stroke-width="0.25" xml:space="preserve">4494.0</text>
<rect x="1688" y="575" width="2" height="1" fill="#000"/>
<text x="1692.30" y="579.00" font-size="10.00" textLength="29.10" lengthAdjust="spacingAndGlyphs" fill="#000" stroke="#000" stroke-width="0.25" xml:space="preserve">4457.0</text>
<rect x="1688" y="608" width="2" height="1" fill="#000"/>
<text x="1692.30" y="612.00" font-size="10.00" textLength="29.10" lengthAdjust="spacingAndGlyphs" fill="#000" stroke="#000" stroke-width="0.25" xml:space="preserve">4421.0</text>
<rect x="1689" y="89" width="36" height="11" fill="#000000"/>
<rect x="1690" y="90" width="34" height="9" fill="#000000"/>
<text x="1692.30" y="98.00" font-size="10.00" textLength="29.10" lengthAdjust="spacingAndGlyphs" fill="#fff" stroke="#fff" stroke-width="0.2">4992.6</text>
<rect x="1689" y="216" width="36" height="11" fill="#2bc42b"/>
<rect x="1690" y="217" width="34" height="9" fill="#32cd32"/>
<text x="1692.30" y="225.00" font-size="10.00" textLength="29.10" lengthAdjust="spacingAndGlyphs" fill="#fff" stroke="#fff" stroke-width="0.2">4850.0</text>
<rect x="1689" y="351" width="36" height="11" fill="#2a58db"/>
<rect x="1690" y="352" width="34" height="9" fill="#4169e1"/>
<text x="1692.30" y="360.00" font-size="10.00" textLength="29.10" lengthAdjust="spacingAndGlyphs" fill="#fff" stroke="#fff" stroke-width="0.2">4700.0</text>
<rect x="1689" y="490" width="36" height="11" fill="#2a58db"/>
<rect x="1690" y="491" width="34" height="9" fill="#4169e1"/>
<text x="1692.30" y="499.00" font-size="10.00" textLength="29.10" lengthAdjust="spacingAndGlyphs" fill="#fff" stroke="#fff" stroke-width="0.2">4545.0</text>
<g transform="translate(1366.0,301.2) scale(1,1.045)"><text x="0" y="0" style="font-family:'Liberation Sans', 'Noto Sans CJK SC', sans-serif" font-size="33.2" fill="#e8191f" shape-rendering="auto">多空转折点</text></g>
<text x="1531.4" y="298.4" style="font-family:'Liberation Sans', sans-serif" font-size="35.5" fill="#e8191f" shape-rendering="auto">4850</text>
<g clip-path="url(#cd)">
<rect x="2" y="652" width="1" height="47" fill="#c0c0c0"/>
<rect x="10" y="649" width="1" height="50" fill="#c0c0c0"/>
<rect x="18" y="651" width="1" height="48" fill="#c0c0c0"/>
<rect x="26" y="655" width="1" height="44" fill="#c0c0c0"/>
<rect x="34" y="656" width="1" height="43" fill="#c0c0c0"/>
<rect x="42" y="669" width="1" height="30" fill="#c0c0c0"/>
<rect x="50" y="684" width="1" height="15" fill="#c0c0c0"/>
<rect x="58" y="694" width="1" height="5" fill="#c0c0c0"/>
<rect x="66" y="698" width="1" height="3" fill="#c0c0c0"/>
<rect x="74" y="698" width="1" height="7" fill="#c0c0c0"/>
<rect x="82" y="698" width="1" height="10" fill="#c0c0c0"/>
<rect x="90" y="698" width="1" height="5" fill="#c0c0c0"/>
<rect x="98" y="696" width="1" height="3" fill="#c0c0c0"/>
<rect x="106" y="692" width="1" height="7" fill="#c0c0c0"/>
<rect x="114" y="690" width="1" height="9" fill="#c0c0c0"/>
<rect x="122" y="688" width="1" height="11" fill="#c0c0c0"/>
<rect x="130" y="685" width="1" height="14" fill="#c0c0c0"/>
<rect x="138" y="679" width="1" height="20" fill="#c0c0c0"/>
<rect x="146" y="673" width="1" height="26" fill="#c0c0c0"/>
<rect x="154" y="667" width="1" height="32" fill="#c0c0c0"/>
<rect x="162" y="663" width="1" height="36" fill="#c0c0c0"/>
<rect x="170" y="659" width="1" height="40" fill="#c0c0c0"/>
<rect x="178" y="658" width="1" height="41" fill="#c0c0c0"/>
<rect x="186" y="661" width="1" height="38" fill="#c0c0c0"/>
<rect x="194" y="662" width="1" height="37" fill="#c0c0c0"/>
<rect x="202" y="670" width="1" height="29" fill="#c0c0c0"/>
<rect x="210" y="672" width="1" height="27" fill="#c0c0c0"/>
<rect x="218" y="676" width="1" height="23" fill="#c0c0c0"/>
<rect x="226" y="677" width="1" height="22" fill="#c0c0c0"/>
<rect x="234" y="675" width="1" height="24" fill="#c0c0c0"/>
<rect x="242" y="681" width="1" height="18" fill="#c0c0c0"/>
<rect x="250" y="693" width="1" height="6" fill="#c0c0c0"/>
<rect x="258" y="696" width="1" height="3" fill="#c0c0c0"/>
<rect x="274" y="698" width="1" height="4" fill="#c0c0c0"/>
<rect x="282" y="698" width="1" height="5" fill="#c0c0c0"/>
<rect x="298" y="686" width="1" height="13" fill="#c0c0c0"/>
<rect x="306" y="678" width="1" height="21" fill="#c0c0c0"/>
<rect x="314" y="670" width="1" height="29" fill="#c0c0c0"/>
<rect x="322" y="666" width="1" height="33" fill="#c0c0c0"/>
<rect x="330" y="665" width="1" height="34" fill="#c0c0c0"/>
<rect x="338" y="669" width="1" height="30" fill="#c0c0c0"/>
<rect x="346" y="677" width="1" height="22" fill="#c0c0c0"/>
<rect x="354" y="684" width="1" height="15" fill="#c0c0c0"/>
<rect x="362" y="685" width="1" height="14" fill="#c0c0c0"/>
<rect x="370" y="688" width="1" height="11" fill="#c0c0c0"/>
<rect x="378" y="687" width="1" height="12" fill="#c0c0c0"/>
<rect x="386" y="688" width="1" height="11" fill="#c0c0c0"/>
<rect x="394" y="687" width="1" height="12" fill="#c0c0c0"/>
<rect x="402" y="687" width="1" height="12" fill="#c0c0c0"/>
<rect x="410" y="691" width="1" height="8" fill="#c0c0c0"/>
<rect x="418" y="694" width="1" height="5" fill="#c0c0c0"/>
<rect x="426" y="695" width="1" height="4" fill="#c0c0c0"/>
<rect x="434" y="695" width="1" height="4" fill="#c0c0c0"/>
<rect x="442" y="692" width="1" height="7" fill="#c0c0c0"/>
<rect x="450" y="683" width="1" height="16" fill="#c0c0c0"/>
<rect x="458" y="674" width="1" height="25" fill="#c0c0c0"/>
<rect x="466" y="674" width="1" height="25" fill="#c0c0c0"/>
<rect x="474" y="672" width="1" height="27" fill="#c0c0c0"/>
<rect x="482" y="670" width="1" height="29" fill="#c0c0c0"/>
<rect x="490" y="669" width="1" height="30" fill="#c0c0c0"/>
<rect x="498" y="669" width="1" height="30" fill="#c0c0c0"/>
<rect x="506" y="670" width="1" height="29" fill="#c0c0c0"/>
<rect x="514" y="672" width="1" height="27" fill="#c0c0c0"/>
<rect x="522" y="678" width="1" height="21" fill="#c0c0c0"/>
<rect x="530" y="682" width="1" height="17" fill="#c0c0c0"/>
<rect x="538" y="686" width="1" height="13" fill="#c0c0c0"/>
<rect x="546" y="696" width="1" height="3" fill="#c0c0c0"/>
<rect x="554" y="698" width="1" height="5" fill="#c0c0c0"/>
<rect x="562" y="698" width="1" height="9" fill="#c0c0c0"/>
<rect x="570" y="698" width="1" height="17" fill="#c0c0c0"/>
<rect x="578" y="698" width="1" height="25" fill="#c0c0c0"/>
<rect x="586" y="698" width="1" height="28" fill="#c0c0c0"/>
<rect x="594" y="698" width="1" height="34" fill="#c0c0c0"/>
<rect x="602" y="698" width="1" height="38" fill="#c0c0c0"/>
<rect x="610" y="698" width="1" height="37" fill="#c0c0c0"/>
<rect x="618" y="698" width="1" height="35" fill="#c0c0c0"/>
<rect x="626" y="698" width="1" height="31" fill="#c0c0c0"/>
<rect x="634" y="698" width="1" height="28" fill="#c0c0c0"/>
<rect x="642" y="698" width="1" height="23" fill="#c0c0c0"/>
<rect x="650" y="698" width="1" height="23" fill="#c0c0c0"/>
<rect x="658" y="698" width="1" height="24" fill="#c0c0c0"/>
<rect x="666" y="698" width="1" height="27" fill="#c0c0c0"/>
<rect x="674" y="698" width="1" height="28" fill="#c0c0c0"/>
<rect x="682" y="698" width="1" height="26" fill="#c0c0c0"/>
<rect x="690" y="698" width="1" height="16" fill="#c0c0c0"/>
<rect x="698" y="698" width="1" height="11" fill="#c0c0c0"/>
<rect x="706" y="698" width="1" height="8" fill="#c0c0c0"/>
<rect x="714" y="698" width="1" height="6" fill="#c0c0c0"/>
<rect x="722" y="698" width="1" height="8" fill="#c0c0c0"/>
<rect x="730" y="698" width="1" height="9" fill="#c0c0c0"/>
<rect x="738" y="698" width="1" height="11" fill="#c0c0c0"/>
<rect x="746" y="698" width="1" height="18" fill="#c0c0c0"/>
<rect x="754" y="698" width="1" height="22" fill="#c0c0c0"/>
<rect x="762" y="698" width="1" height="24" fill="#c0c0c0"/>
<rect x="770" y="698" width="1" height="26" fill="#c0c0c0"/>
<rect x="778" y="698" width="1" height="27" fill="#c0c0c0"/>
<rect x="786" y="698" width="1" height="26" fill="#c0c0c0"/>
<rect x="794" y="698" width="1" height="23" fill="#c0c0c0"/>
<rect x="802" y="698" width="1" height="22" fill="#c0c0c0"/>
<rect x="810" y="698" width="1" height="18" fill="#c0c0c0"/>
<rect x="818" y="698" width="1" height="20" fill="#c0c0c0"/>
<rect x="826" y="698" width="1" height="12" fill="#c0c0c0"/>
<rect x="834" y="698" width="1" height="7" fill="#c0c0c0"/>
<rect x="842" y="692" width="1" height="7" fill="#c0c0c0"/>
<rect x="850" y="679" width="1" height="20" fill="#c0c0c0"/>
<rect x="858" y="670" width="1" height="29" fill="#c0c0c0"/>
<rect x="866" y="662" width="1" height="37" fill="#c0c0c0"/>
<rect x="874" y="657" width="1" height="42" fill="#c0c0c0"/>
<rect x="882" y="654" width="1" height="45" fill="#c0c0c0"/>
<rect x="890" y="654" width="1" height="45" fill="#c0c0c0"/>
<rect x="898" y="654" width="1" height="45" fill="#c0c0c0"/>
<rect x="906" y="658" width="1" height="41" fill="#c0c0c0"/>
<rect x="914" y="660" width="1" height="39" fill="#c0c0c0"/>
<rect x="922" y="663" width="1" height="36" fill="#c0c0c0"/>
<rect x="930" y="668" width="1" height="31" fill="#c0c0c0"/>
<rect x="938" y="670" width="1" height="29" fill="#c0c0c0"/>
<rect x="946" y="671" width="1" height="28" fill="#c0c0c0"/>
<rect x="954" y="674" width="1" height="25" fill="#c0c0c0"/>
<rect x="962" y="674" width="1" height="25" fill="#c0c0c0"/>
<rect x="970" y="679" width="1" height="20" fill="#c0c0c0"/>
<rect x="978" y="680" width="1" height="19" fill="#c0c0c0"/>
<rect x="986" y="680" width="1" height="19" fill="#c0c0c0"/>
<rect x="994" y="684" width="1" height="15" fill="#c0c0c0"/>
<rect x="1002" y="691" width="1" height="8" fill="#c0c0c0"/>
<rect x="1010" y="696" width="1" height="3" fill="#c0c0c0"/>
<rect x="1018" y="698" width="1" height="2" fill="#c0c0c0"/>
<rect x="1026" y="698" width="1" height="3" fill="#c0c0c0"/>
<rect x="1034" y="698" width="1" height="4" fill="#c0c0c0"/>
<rect x="1042" y="698" width="1" height="2" fill="#c0c0c0"/>
<rect x="1050" y="698" width="1" height="1" fill="#c0c0c0"/>
<rect x="1058" y="695" width="1" height="4" fill="#c0c0c0"/>
<rect x="1066" y="693" width="1" height="6" fill="#c0c0c0"/>
<rect x="1074" y="697" width="1" height="2" fill="#c0c0c0"/>
<rect x="1098" y="696" width="1" height="3" fill="#c0c0c0"/>
<rect x="1106" y="694" width="1" height="5" fill="#c0c0c0"/>
<rect x="1114" y="690" width="1" height="9" fill="#c0c0c0"/>
<rect x="1122" y="686" width="1" height="13" fill="#c0c0c0"/>
<rect x="1130" y="679" width="1" height="20" fill="#c0c0c0"/>
<rect x="1138" y="672" width="1" height="27" fill="#c0c0c0"/>
<rect x="1146" y="670" width="1" height="29" fill="#c0c0c0"/>
<rect x="1154" y="666" width="1" height="33" fill="#c0c0c0"/>
<rect x="1162" y="654" width="1" height="45" fill="#c0c0c0"/>
<rect x="1170" y="647" width="1" height="52" fill="#c0c0c0"/>
<rect x="1178" y="642" width="1" height="57" fill="#c0c0c0"/>
<rect x="1186" y="641" width="1" height="58" fill="#c0c0c0"/>
<rect x="1194" y="641" width="1" height="58" fill="#c0c0c0"/>
<rect x="1202" y="644" width="1" height="55" fill="#c0c0c0"/>
<rect x="1210" y="648" width="1" height="51" fill="#c0c0c0"/>
<rect x="1218" y="651" width="1" height="48" fill="#c0c0c0"/>
<rect x="1226" y="658" width="1" height="41" fill="#c0c0c0"/>
<rect x="1234" y="664" width="1" height="35" fill="#c0c0c0"/>
<rect x="1242" y="666" width="1" height="33" fill="#c0c0c0"/>
<rect x="1250" y="667" width="1" height="32" fill="#c0c0c0"/>
<rect x="1258" y="670" width="1" height="29" fill="#c0c0c0"/>
<rect x="1266" y="671" width="1" height="28" fill="#c0c0c0"/>
<rect x="1274" y="672" width="1" height="27" fill="#c0c0c0"/>
<rect x="1282" y="674" width="1" height="25" fill="#c0c0c0"/>
<rect x="1290" y="675" width="1" height="24" fill="#c0c0c0"/>
<rect x="1298" y="674" width="1" height="25" fill="#c0c0c0"/>
<rect x="1306" y="675" width="1" height="24" fill="#c0c0c0"/>
<rect x="1314" y="674" width="1" height="25" fill="#c0c0c0"/>
<rect x="1322" y="671" width="1" height="28" fill="#c0c0c0"/>
<rect x="1330" y="667" width="1" height="32" fill="#c0c0c0"/>
<polyline points="2.6,620.6 5.2,623.1 7.7,626.9 9.0,628.8 12.8,632.9 15.1,635.0 17.9,638.8 20.0,641.1 23.8,642.8 26.0,643.9 29.8,645.8 32.1,646.9 35.7,648.8 37.8,649.8 42.7,652.2 48.9,655.7 55.2,659.3 61.0,663.3 66.9,668.2 72.8,672.4 78.6,677.2 84.5,682.3 90.7,686.6 97.0,689.7 102.8,692.5 109.1,695.8 115.0,697.9 121.2,697.9 127.1,697.1 142.0,692.1 157.7,684.2 173.5,675.4 187.2,669.5 199.0,665.5 216.7,664.5 226.5,666.1 240.3,669.1 254.0,676.3 269.8,684.2 281.5,689.1 297.3,692.7 309.1,692.1 322.8,688.1 330.5,685.5 338.4,682.0 348.2,677.7 360.0,676.1 373.7,676.1 383.6,677.3 395.4,681.2 409.1,685.1 418.9,687.5 438.6,689.9 452.4,689.5 474.0,686.1 487.7,681.2 499.5,677.7 511.3,673.7 523.1,672.2 534.9,673.1 546.7,677.1 564.4,686.1 578.1,695.4 591.9,706.2 605.7,715.0 619.4,723.9 629.2,727.8 645.0,729.8 654.8,729.2 660.5,728.8 678.2,726.8 691.9,723.5 709.6,718.0 727.3,714.4 745.0,711.1 758.8,711.1 770.6,714.0 786.3,717.6 802.0,721.5 817.7,722.9 835.4,719.9 849.2,712.1 864.9,698.9 876.7,687.5 892.4,673.3 906.2,664.9 916.0,660.0 929.8,659.0 943.5,660.4 955.3,663.9 967.1,667.8 980.9,671.2 990.5,674.0 1009.8,680.9 1015.0,682.4 1021.1,684.6 1027.1,686.9 1033.1,689.9 1039.1,691.9 1045.1,693.4 1051.1,694.9 1057.2,696.3 1063.2,697.6 1068.8,697.9 1075.2,698.8 1093.2,698.8 1099.3,697.9 1105.3,696.9 1111.3,695.9 1116.5,695.0 1123.3,693.9 1128.1,693.2 1144.3,687.1 1158.4,681.1 1172.6,672.0 1184.7,662.9 1196.9,655.8 1211.0,649.7 1225.2,647.1 1233.3,647.7 1245.4,650.1 1259.6,655.8 1273.7,662.3 1287.9,667.9 1302.0,671.0 1314.2,672.0 1328.3,673.0" fill="none" stroke="#ff0000" stroke-width="1" stroke-dasharray="3 3"/>
</g>
<rect x="1.5" y="613.5" width="1686" height="129" fill="none" stroke="#000" stroke-width="1"/>
<text x="6.30" y="626.00" font-size="10.00" textLength="117.50" lengthAdjust="spacingAndGlyphs" fill="#000" stroke="#000" stroke-width="0.25" xml:space="preserve">MACD(12,26,9) 34.27 28.26</text>
<rect x="1688" y="615" width="1" height="1" fill="#000"/>
<rect x="1688" y="698" width="1" height="1" fill="#000"/>
<rect x="1688" y="741" width="1" height="1" fill="#000"/>
<text x="1690.40" y="624.00" font-size="10.00" textLength="24.10" lengthAdjust="spacingAndGlyphs" fill="#000" stroke="#000" stroke-width="0.25" xml:space="preserve">90.19</text>
<text x="1690.50" y="702.00" font-size="10.00" textLength="18.90" lengthAdjust="spacingAndGlyphs" fill="#000" stroke="#000" stroke-width="0.25" xml:space="preserve">0.00</text>
<text x="1690.40" y="739.00" font-size="10.00" textLength="22.00" lengthAdjust="spacingAndGlyphs" fill="#000" stroke="#000" stroke-width="0.25" xml:space="preserve">-47.5</text>
<g clip-path="url(#cr)">
<line x1="3" y1="784.5" x2="1687" y2="784.5" stroke="#b4b4b4" stroke-width="1" stroke-dasharray="3 3"/>
<line x1="3" y1="834.5" x2="1687" y2="834.5" stroke="#b4b4b4" stroke-width="1" stroke-dasharray="3 3"/>
<polyline points="1.5,800.4 2.5,801.4 10.5,794.9 18.5,801.4 26.5,805.0 34.5,801.7 42.5,817.3 50.5,821.9 58.5,818.9 66.5,818.9 74.5,816.0 82.5,814.8 90.5,805.4 98.5,800.9 106.5,803.0 114.5,805.0 122.5,805.0 130.5,803.0 138.5,797.0 146.5,794.9 154.5,793.8 162.5,793.8 170.5,791.7 178.5,796.5 186.5,802.7 194.5,800.1 202.5,812.7 210.5,807.1 218.5,807.9 226.5,805.4 234.5,800.9 242.5,811.1 250.5,822.8 258.5,813.0 266.5,814.7 274.5,814.3 282.5,812.7 290.5,803.0 298.5,793.8 306.5,794.9 314.5,794.9 322.5,796.1 330.5,799.5 338.5,805.4 346.5,815.6 354.5,813.9 362.5,807.9 370.5,809.8 378.5,805.8 386.5,809.0 394.5,805.8 402.5,805.8 410.5,812.7 418.5,814.0 426.5,809.8 434.5,809.0 442.5,802.2 450.5,792.8 458.5,790.9 466.5,802.7 474.5,800.6 482.5,797.8 490.5,800.9 498.5,800.9 506.5,801.9 514.5,803.0 522.5,814.7 530.5,810.8 538.5,813.0 546.5,824.9 554.5,824.9 562.5,817.9 570.5,825.7 578.5,828.9 586.5,822.9 594.5,827.0 602.5,827.0 610.5,819.5 618.5,816.0 626.5,814.8 634.5,811.9 642.5,809.8 650.5,816.8 658.5,818.4 666.5,824.9 674.5,820.0 682.5,813.9 690.5,799.8 698.5,806.6 706.5,809.0 714.5,807.9 722.5,816.0 730.5,814.8 738.5,816.0 746.5,824.9 754.5,822.9 762.5,822.9 770.5,821.1 778.5,821.1 786.5,817.9 794.5,814.8 802.5,816.0 810.5,810.8 818.5,819.5 826.5,800.1 834.5,804.8 842.5,790.7 850.5,789.1 858.5,789.9 866.5,788.8 874.5,792.8 882.5,791.9 890.5,796.4 898.5,798.3 906.5,804.0 914.5,800.8 922.5,804.0 930.5,806.9 938.5,804.8 946.5,802.9 954.5,806.9 962.5,802.1 970.5,811.0 978.5,806.4 986.5,802.9 994.5,812.6 1002.5,817.8 1010.5,818.7 1018.5,819.9 1026.5,815.8 1034.5,809.8 1042.5,807.7 1050.5,803.7 1058.5,800.8 1066.5,804.0 1074.5,815.7 1082.5,812.0 1090.5,811.0 1098.5,805.0 1106.5,803.7 1114.5,799.6 1122.5,796.9 1130.5,788.8 1138.5,786.7 1146.5,795.6 1154.5,791.1 1162.5,779.9 1170.5,784.7 1178.5,785.1 1186.5,788.3 1194.5,789.9 1202.5,797.7 1210.5,800.0 1218.5,798.8 1226.5,807.7 1234.5,809.0 1242.5,801.7 1250.5,800.0 1258.5,804.0 1266.5,802.9 1274.5,800.8 1282.5,804.5 1290.5,800.8 1298.5,798.0 1306.5,800.0 1314.5,796.9 1322.5,791.2 1330.5,787.5" fill="none" stroke="#1e90ff" stroke-width="1"/>
</g>
<rect x="1.5" y="744.5" width="1686" height="129" fill="none" stroke="#000" stroke-width="1"/>
<text x="5.70" y="757.00" font-size="10.00" textLength="68.40" lengthAdjust="spacingAndGlyphs" fill="#000" stroke="#000" stroke-width="0.25" xml:space="preserve">RSI(14) 67.3219</text>
<rect x="1688" y="746" width="1" height="1" fill="#000"/>
<rect x="1688" y="872" width="1" height="1" fill="#000"/>
<text x="1690.90" y="755.00" font-size="10.00" textLength="15.40" lengthAdjust="spacingAndGlyphs" fill="#000" stroke="#000" stroke-width="0.25" xml:space="preserve">100</text>
<text x="1689.60" y="788.00" font-size="10.00" textLength="10.90" lengthAdjust="spacingAndGlyphs" fill="#000" stroke="#000" stroke-width="0.25" xml:space="preserve">70</text>
<text x="1689.30" y="838.00" font-size="10.00" textLength="11.20" lengthAdjust="spacingAndGlyphs" fill="#000" stroke="#000" stroke-width="0.25" xml:space="preserve">30</text>
<text x="1690.30" y="870.00" font-size="10.00" textLength="6.20" lengthAdjust="spacingAndGlyphs" fill="#000" stroke="#000" stroke-width="0.25" xml:space="preserve">0</text>
<rect x="2" y="874" width="1" height="3" fill="#000"/>
<text x="0.50" y="886.00" font-size="10.00" textLength="47.70" lengthAdjust="spacingAndGlyphs" fill="#000" stroke="#000" stroke-width="0.25" xml:space="preserve">21 Jul 2020</text>
<rect x="66" y="874" width="1" height="3" fill="#000"/>
<text x="64.40" y="886.00" font-size="10.00" textLength="51.20" lengthAdjust="spacingAndGlyphs" fill="#000" stroke="#000" stroke-width="0.25" xml:space="preserve">27 Jul 05:00</text>
<rect x="130" y="874" width="1" height="3" fill="#000"/>
<text x="128.90" y="886.00" font-size="10.00" textLength="50.40" lengthAdjust="spacingAndGlyphs" fill="#000" stroke="#000" stroke-width="0.25" xml:space="preserve">31 Jul 05:00</text>
<rect x="194" y="874" width="1" height="3" fill="#000"/>
<text x="192.60" y="886.00" font-size="10.00" textLength="51.80" lengthAdjust="spacingAndGlyphs" fill="#000" stroke="#000" stroke-width="0.25" xml:space="preserve">6 Aug 05:00</text>
<rect x="258" y="874" width="1" height="3" fill="#000"/>
<text x="257.10" y="886.00" font-size="10.00" textLength="56.40" lengthAdjust="spacingAndGlyphs" fill="#000" stroke="#000" stroke-width="0.25" xml:space="preserve">12 Aug 05:00</text>
<rect x="322" y="874" width="1" height="3" fill="#000"/>
<text x="321.20" y="886.00" font-size="10.00" textLength="56.30" lengthAdjust="spacingAndGlyphs" fill="#000" stroke="#000" stroke-width="0.25" xml:space="preserve">18 Aug 05:00</text>
<rect x="386" y="874" width="1" height="3" fill="#000"/>
<text x="385.10" y="886.00" font-size="10.00" textLength="56.40" lengthAdjust="spacingAndGlyphs" fill="#000" stroke="#000" stroke-width="0.25" xml:space="preserve">24 Aug 05:00</text>
<rect x="450" y="874" width="1" height="3" fill="#000"/>
<text x="449.00" y="886.00" font-size="10.00" textLength="56.40" lengthAdjust="spacingAndGlyphs" fill="#000" stroke="#000" stroke-width="0.25" xml:space="preserve">28 Aug 05:00</text>
<rect x="514" y="874" width="1" height="3" fill="#000"/>
<text x="513.00" y="886.00" font-size="10.00" textLength="50.60" lengthAdjust="spacingAndGlyphs" fill="#000" stroke="#000" stroke-width="0.25" xml:space="preserve">3 Sep 05:00</text>
<rect x="578" y="874" width="1" height="3" fill="#000"/>
<text x="576.90" y="886.00" font-size="10.00" textLength="50.60" lengthAdjust="spacingAndGlyphs" fill="#000" stroke="#000" stroke-width="0.25" xml:space="preserve">9 Sep 05:00</text>
<rect x="642" y="874" width="1" height="3" fill="#000"/>
<text x="641.20" y="886.00" font-size="10.00" textLength="55.40" lengthAdjust="spacingAndGlyphs" fill="#000" stroke="#000" stroke-width="0.25" xml:space="preserve">15 Sep 05:00</text>
<rect x="706" y="874" width="1" height="3" fill="#000"/>
<text x="705.10" y="886.00" font-size="10.00" textLength="55.40" lengthAdjust="spacingAndGlyphs" fill="#000" stroke="#000" stroke-width="0.25" xml:space="preserve">21 Sep 05:00</text>
<rect x="770" y="874" width="1" height="3" fill="#000"/>
<text x="769.00" y="886.00" font-size="10.00" textLength="55.40" lengthAdjust="spacingAndGlyphs" fill="#000" stroke="#000" stroke-width="0.25" xml:space="preserve">25 Sep 05:00</text>
<rect x="834" y="874" width="1" height="3" fill="#000"/>
<text x="833.00" y="886.00" font-size="10.00" textLength="49.60" lengthAdjust="spacingAndGlyphs" fill="#000" stroke="#000" stroke-width="0.25" xml:space="preserve">9 Oct 05:00</text>
<rect x="898" y="874" width="1" height="3" fill="#000"/>
<text x="896.90" y="886.00" font-size="10.00" textLength="54.40" lengthAdjust="spacingAndGlyphs" fill="#000" stroke="#000" stroke-width="0.25" xml:space="preserve">15 Oct 05:00</text>
<rect x="962" y="874" width="1" height="3" fill="#000"/>
<text x="961.20" y="886.00" font-size="10.00" textLength="54.40" lengthAdjust="spacingAndGlyphs" fill="#000" stroke="#000" stroke-width="0.25" xml:space="preserve">21 Oct 05:00</text>
<rect x="1026" y="874" width="1" height="3" fill="#000"/>
<text x="1025.10" y="886.00" font-size="10.00" textLength="54.40" lengthAdjust="spacingAndGlyphs" fill="#000" stroke="#000" stroke-width="0.25" xml:space="preserve">27 Oct 05:00</text>
<rect x="1090" y="874" width="1" height="3" fill="#000"/>
<text x="1089.00" y="886.00" font-size="10.00" textLength="52.60" lengthAdjust="spacingAndGlyphs" fill="#000" stroke="#000" stroke-width="0.25" xml:space="preserve">2 Nov 05:00</text>
<rect x="1154" y="874" width="1" height="3" fill="#000"/>
<text x="1153.00" y="886.00" font-size="10.00" textLength="52.50" lengthAdjust="spacingAndGlyphs" fill="#000" stroke="#000" stroke-width="0.25" xml:space="preserve">6 Nov 05:00</text>
<rect x="1218" y="874" width="1" height="3" fill="#000"/>
<text x="1216.90" y="886.00" font-size="10.00" textLength="57.30" lengthAdjust="spacingAndGlyphs" fill="#000" stroke="#000" stroke-width="0.25" xml:space="preserve">12 Nov 05:00</text>
<rect x="1282" y="874" width="1" height="3" fill="#000"/>
<text x="1281.10" y="886.00" font-size="10.00" textLength="57.30" lengthAdjust="spacingAndGlyphs" fill="#000" stroke="#000" stroke-width="0.25" xml:space="preserve">18 Nov 05:00</text>
</svg>
</body></html>
